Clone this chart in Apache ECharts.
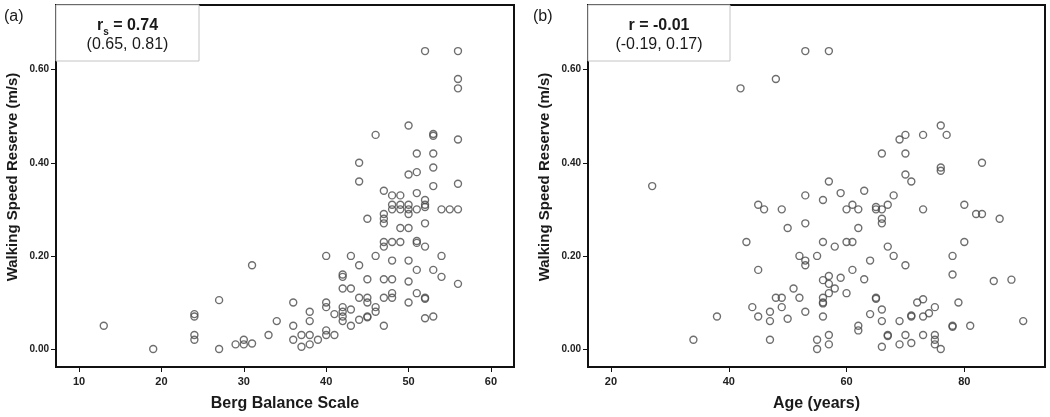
<!DOCTYPE html>
<html>
<head>
<meta charset="utf-8">
<script src="https://cdn.jsdelivr.net/npm/echarts@6/dist/echarts.min.js"></script>
<style>html,body{margin:0;padding:0;background:#fff;}#c{width:1050px;height:417px;}</style>
</head>
<body>
<div id="c"></div>
<script>
// ---- data ----
// Panel (a): Berg Balance Scale vs Walking Speed Reserve
const bergScores = [
  13, 19, 24,24,24,24, 27,27, 29, 30,30, 31,31, 33, 34, 36,36,36, 37,37, 38,38,38,38, 39,
  40,40,40,40,40, 41,41, 42,42,42,42,42,42,42, 43,43,43,43, 44,44,44,44,44,
  45,45,45,45,45,45, 46,46,46,46, 47,47,47,47,47,47,47,47,47, 48,48,48,48,48,48,48,48,
  49,49,49,49,49, 50,50,50,50,50,50,50,50,50, 51,51,51,51,51,51,51,51,
  52,52,52,52,52,52,52,52,52, 53,53,53,53,53,53,53, 54,54,54, 55, 56,56,56,56,56,56,56
];
const bergReserve = [
  0.05, 0.00, 0.075,0.07,0.03,0.02, 0.105,0.00, 0.01, 0.02,0.01, 0.18,0.012, 0.03, 0.06, 0.10,0.05,0.02, 0.03,0.005, 0.08,0.06,0.03,0.01, 0.02,
  0.20,0.10,0.09,0.04,0.03, 0.075,0.03, 0.16,0.155,0.13,0.09,0.08,0.07,0.06, 0.20,0.13,0.085,0.05, 0.40,0.36,0.18,0.11,0.063,
  0.28,0.15,0.11,0.10,0.07,0.068, 0.46,0.20,0.09,0.08, 0.34,0.29,0.28,0.27,0.23,0.22,0.15,0.11,0.05, 0.33,0.31,0.30,0.23,0.19,0.15,0.12,0.11,
  0.33,0.31,0.30,0.26,0.23, 0.48,0.375,0.31,0.30,0.29,0.26,0.19,0.145,0.10, 0.42,0.38,0.335,0.30,0.232,0.228,0.17,0.12,
  0.64,0.32,0.31,0.305,0.27,0.22,0.11,0.108,0.066, 0.462,0.458,0.42,0.39,0.35,0.17,0.07, 0.30,0.20,0.155, 0.30, 0.64,0.58,0.56,0.45,0.355,0.30,0.14
];
// Panel (b): Age vs Walking Speed Reserve
const ages = [
  27, 34, 38, 42, 43, 44, 45,45,45, 46, 47,47,47, 48,48, 49,49,49, 50,50, 51, 52,52,
  53,53,53,53,53,53, 55,55,55, 56,56,56,56,56,56,56, 57,57,57,57,57,57,57, 58,58, 59,59,
  60,60,60, 61,61,61, 62,62,62,62, 63,63, 64,64, 65,65,65,65, 66,66,66,66,66,66,66,
  67,67,67,67, 68,68, 69,69,69, 70,70,70,70,70, 71,71,71,71, 72, 73,73,73,73,73, 74,
  75,75,75,75, 76,76,76,76, 77, 78,78,78,78, 79, 80,80, 81, 82, 83,83, 85, 86, 88, 90
];
const ageReserve = [
  0.35, 0.02, 0.07, 0.56, 0.23, 0.09, 0.31,0.17,0.07, 0.30, 0.08,0.06,0.02, 0.58,0.11, 0.30,0.11,0.09, 0.26,0.065, 0.13, 0.20,0.11,
  0.64,0.33,0.27,0.19,0.18,0.08, 0.20,0.02,0.00, 0.32,0.23,0.148,0.11,0.10,0.098,0.07, 0.64,0.36,0.157,0.14,0.12,0.03,0.01, 0.22,0.13, 0.335,0.153,
  0.30,0.23,0.12, 0.31,0.23,0.17, 0.30,0.26,0.05,0.04, 0.34,0.15, 0.19,0.075, 0.305,0.30,0.11,0.108, 0.42,0.30,0.28,0.27,0.085,0.06,0.005,
  0.31,0.22,0.03,0.028, 0.33,0.20, 0.45,0.06,0.01, 0.46,0.42,0.375,0.18,0.03, 0.36,0.072,0.07,0.013, 0.10, 0.46,0.30,0.107,0.07,0.03, 0.077,
  0.09,0.03,0.02,0.01, 0.48,0.39,0.383,0.00, 0.46, 0.20,0.16,0.05,0.048, 0.10, 0.31,0.23, 0.05, 0.29, 0.40,0.29, 0.146, 0.28, 0.149, 0.06
];
const bergTicks = [10, 20, 30, 40, 50, 60];
const ageTicks = [20, 40, 60, 80];
const reserveTicks = [0, 0.2, 0.4, 0.6];
const panelTags = ['(a)', '(b)'];
const statMain = ['= 0.74', 'r = -0.01'];
const statCI = ['(0.65, 0.81)', '(-0.19, 0.17)'];

// ---- chart ----
const FONT = "'Liberation Sans', Arial, Helvetica, sans-serif";
const pairs = (xs, ys) => xs.map((x, i) => [x, ys[i]]);

function xAxisFor(idx, min, max, ticks, name) {
  return {
    gridIndex: idx, type: 'value', min: min, max: max, name: name,
    nameLocation: 'middle', nameGap: 29,
    nameTextStyle: { fontFamily: FONT, fontWeight: 'bold', fontSize: 16, color: '#1a1a1a' },
    axisLine: { show: false, onZero: false },
    axisTick: { show: true, inside: false, customValues: ticks, length: 5, lineStyle: { color: '#111', width: 1 } },
    axisLabel: { show: true, customValues: ticks, margin: 9, fontFamily: FONT, fontWeight: 'bold', fontSize: 11, color: '#222' },
    splitLine: { show: false }
  };
}
function yAxisFor(idx) {
  return {
    gridIndex: idx, type: 'value', min: -0.0386, max: 0.739,
    name: 'Walking Speed Reserve (m/s)', nameLocation: 'middle', nameGap: 36,
    nameTextStyle: { fontFamily: FONT, fontWeight: 'bold', fontSize: 15, color: '#1a1a1a', padding: [0, 0, 0, 18] },
    axisLine: { show: false, onZero: false },
    axisTick: { show: true, inside: false, customValues: reserveTicks, length: 5, lineStyle: { color: '#111', width: 1 } },
    axisLabel: { show: true, customValues: reserveTicks, margin: 7, fontFamily: FONT, fontWeight: 'bold', fontSize: 10, color: '#222',
      formatter: v => v.toFixed(2) },
    splitLine: { show: false }
  };
}
function scatterFor(idx, data) {
  return {
    type: 'scatter', xAxisIndex: idx, yAxisIndex: idx, data: data,
    symbol: 'circle', symbolSize: 7,
    itemStyle: { color: 'rgba(255,255,255,0)', borderColor: '#4a4a4a', borderWidth: 1.4 },
    emphasis: { disabled: true }, silent: true
  };
}
function statBox(x, w, idx) {
  const cx = x + w / 2;
  const main = idx === 0
    ? '{b|r}{s|s}{b| ' + statMain[0] + '}'
    : '{b|' + statMain[1] + '}';
  return [
    { type: 'rect', z: 100, shape: { x: x, y: 5, width: w, height: 56 },
      style: { fill: '#fff', stroke: '#c4c4c4', lineWidth: 1 } },
    { type: 'text', z: 101, x: cx, y: 25,
      style: { text: main, align: 'center', verticalAlign: 'middle',
        rich: { b: { fontFamily: FONT, fontWeight: 'bold', fontSize: 16, fill: '#1a1a1a', lineHeight: 18, verticalAlign: 'bottom' },
                s: { fontFamily: FONT, fontWeight: 'bold', fontSize: 10, fill: '#1a1a1a', lineHeight: 18, verticalAlign: 'bottom', padding: [0, 0, -3, 0] } } } },
    { type: 'text', z: 101, x: cx, y: 45,
      style: { text: statCI[idx], align: 'center', verticalAlign: 'middle', fontFamily: FONT, fontSize: 16, fill: '#1a1a1a' } }
  ];
}

const chart = echarts.init(document.getElementById('c'), null, { renderer: 'canvas' });
chart.setOption({
  backgroundColor: '#fff',
  animation: false,
  grid: [
    { left: 56, top: 5, width: 458, height: 363, show: true, borderColor: '#111', borderWidth: 2, backgroundColor: '#fff' },
    { left: 588, top: 5, width: 457, height: 363, show: true, borderColor: '#111', borderWidth: 2, backgroundColor: '#fff' }
  ],
  xAxis: [
    xAxisFor(0, 7.2, 62.8, bergTicks, 'Berg Balance Scale'),
    xAxisFor(1, 16.1, 93.7, ageTicks, 'Age (years)')
  ],
  yAxis: [yAxisFor(0), yAxisFor(1)],
  series: [
    scatterFor(0, pairs(bergScores, bergReserve)),
    scatterFor(1, pairs(ages, ageReserve))
  ],
  graphic: [
    ...statBox(56, 143, 0),
    ...statBox(588, 142, 1),
    { type: 'text', x: 4, y: 17, style: { text: panelTags[0], verticalAlign: 'middle', fontFamily: FONT, fontSize: 16, fill: '#1a1a1a' } },
    { type: 'text', x: 533, y: 17, style: { text: panelTags[1], verticalAlign: 'middle', fontFamily: FONT, fontSize: 16, fill: '#1a1a1a' } }
  ]
});
</script>
</body>
</html>
